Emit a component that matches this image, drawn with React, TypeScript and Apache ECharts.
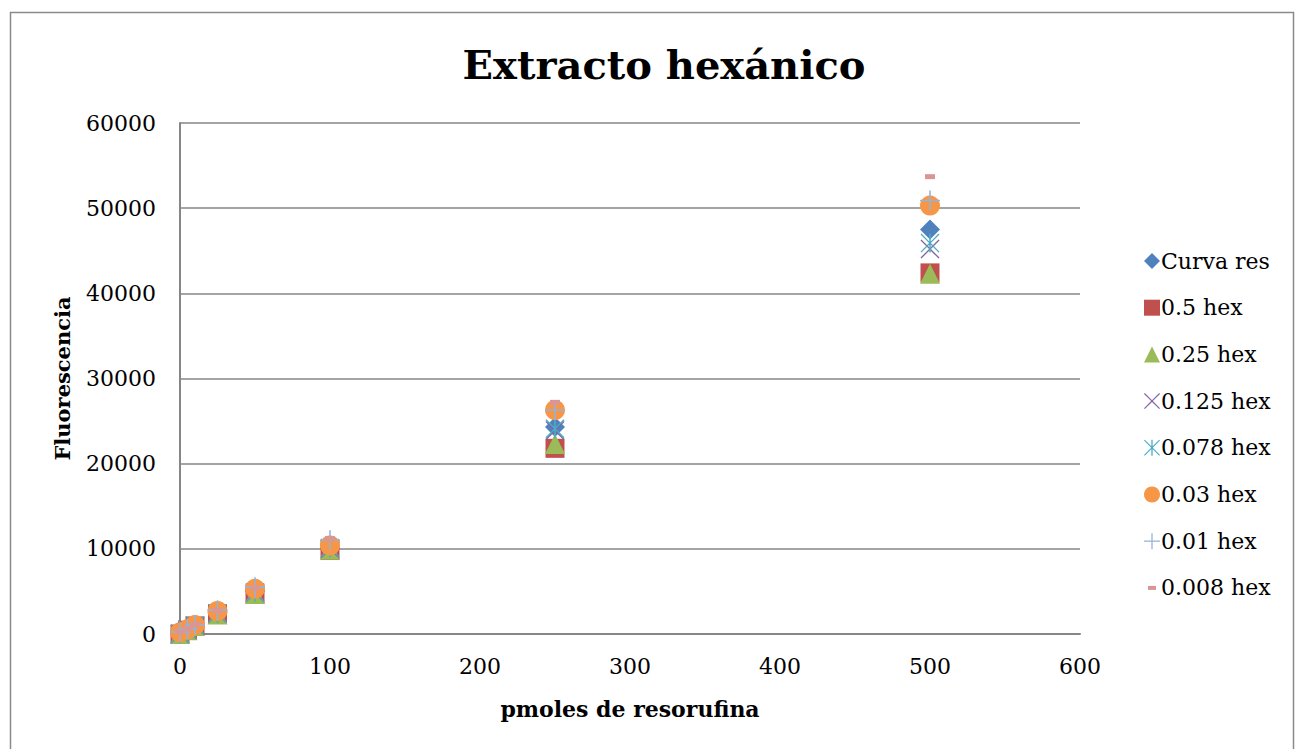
import React, { useEffect, useRef } from "react";
import * as echarts from "echarts";

const xValues = [0, 5, 10, 25, 50, 100, 250, 500];
const seriesNames = ["Curva res", "0.5 hex", "0.25 hex", "0.125 hex", "0.078 hex", "0.03 hex", "0.01 hex", "0.008 hex"];
const curvaRes = [0, 500, 1000, 2500, 5000, 10000, 24300, 47500];
const hex05 = [0, 450, 950, 2350, 4700, 9800, 21800, 42400];
const hex025 = [0, 450, 950, 2300, 4700, 9900, 22300, 42300];
const hex0125 = [0, 480, 980, 2400, 4850, 10000, 23900, 45200];
const hex0078 = [0, 490, 990, 2450, 4900, 10100, 24100, 45900];
const hex003 = [200, 550, 1050, 2700, 5300, 10400, 26300, 50300];
const hex001 = [250, 600, 1100, 2800, 5500, 11000, 26300, 50900];
const hex0008 = [250, 600, 1100, 2750, 5400, 11200, 27200, 53700];
const yTicks = [0, 10000, 20000, 30000, 40000, 50000, 60000];
const xTicks = [0, 100, 200, 300, 400, 500, 600];

const colors = ["#4F81BD", "#C0504D", "#9BBB59", "#8064A2", "#4BACC6", "#F79646", "#95B3D7", "#D99694"];

const X_PATH = "path://M1,0 L10,9 L19,0 L20,1 L11,10 L20,19 L19,20 L10,11 L1,20 L0,19 L9,10 L0,1 Z";
const AST_PATH = "path://M1,0 L10,9 L19,0 L20,1 L11,10 L20,19 L19,20 L10,11 L1,20 L0,19 L9,10 L0,1 Z M9.2,0 H10.8 V20 H9.2 Z";
const PLUS_PATH = "path://M9.2,0 H10.8 V9.2 H20 V10.8 H10.8 V20 H9.2 V10.8 H0 V9.2 H9.2 Z";
const DASH_PATH = "path://M0,0 M20,20 M5,7.5 H15 V12.5 H5 Z";

const symbols = ["diamond", "rect", "triangle", X_PATH, AST_PATH, "circle", PLUS_PATH, DASH_PATH];
const sizes = [20, 19, 20, 19, 19, 20, 20, 20];
const allData = [curvaRes, hex05, hex025, hex0125, hex0078, hex003, hex001, hex0008];

const FONT = "'DejaVu Serif', 'Liberation Serif', serif";

export default function App() {
  const ref = useRef<HTMLDivElement>(null);
  useEffect(() => {
    if (!ref.current) return;
    const chart = echarts.init(ref.current, null, { renderer: "svg" });
    chart.setOption({
      animation: false,
      backgroundColor: "#ffffff",
      title: {
        text: "Extracto hexánico",
        left: 659,
        top: 39,
        textAlign: "center",
        textStyle: { fontFamily: FONT, fontWeight: "bold", fontSize: 40, color: "#000" },
      },
      graphic: [
        {
          type: "rect",
          shape: { x: 10.5, y: 12.5, width: 1283, height: 800 },
          style: { fill: "none", stroke: "#8a8a8a", lineWidth: 1.5 },
          silent: true,
        },
      ],
      grid: { left: 180, right: 217, top: 123, bottom: 115 },
      legend: {
        orient: "vertical",
        left: 1139,
        top: 244,
        itemWidth: 16,
        itemHeight: 16,
        itemGap: 22.7,
        textStyle: { fontFamily: FONT, fontSize: 22, color: "#000", lineHeight: 24, padding: [0, 0, 0, -4] },
        data: seriesNames,
      },
      xAxis: {
        type: "value",
        min: xTicks[0],
        max: xTicks[xTicks.length - 1],
        interval: 100,
        name: "pmoles de resorufina",
        nameLocation: "middle",
        nameGap: 64,
        nameTextStyle: { fontFamily: FONT, fontWeight: "bold", fontSize: 22, color: "#000" },
        axisLine: { onZero: false, lineStyle: { color: "#868686", width: 2 } },
        axisTick: { show: false },
        splitLine: { show: false },
        axisLabel: { fontFamily: FONT, fontSize: 22, color: "#000", margin: 21 },
      },
      yAxis: {
        type: "value",
        min: yTicks[0],
        max: yTicks[yTicks.length - 1],
        interval: 10000,
        name: "Fluorescencia",
        nameLocation: "middle",
        nameGap: 107,
        nameTextStyle: { fontFamily: FONT, fontWeight: "bold", fontSize: 21, color: "#000" },
        axisLine: { show: true, lineStyle: { color: "#868686", width: 2 } },
        axisTick: { show: false },
        splitLine: { lineStyle: { color: "#868686", width: 1.5 } },
        axisLabel: { fontFamily: FONT, fontSize: 22, color: "#000", margin: 24, formatter: (v: number) => String(v) },
      },
      series: seriesNames.map((name, i) => ({
        name,
        type: "scatter",
        symbol: symbols[i],
        symbolSize: sizes[i],
        itemStyle: { color: colors[i], opacity: 1 },
        data: xValues.map((x, j) => [x, allData[i][j]]),
        z: 2 + i,
      })),
    });
    return () => chart.dispose();
  }, []);
  return (
    <div
      ref={ref}
      style={{ position: "absolute", left: 0, top: 0, width: 1297, height: 749 }}
    />
  );
}
